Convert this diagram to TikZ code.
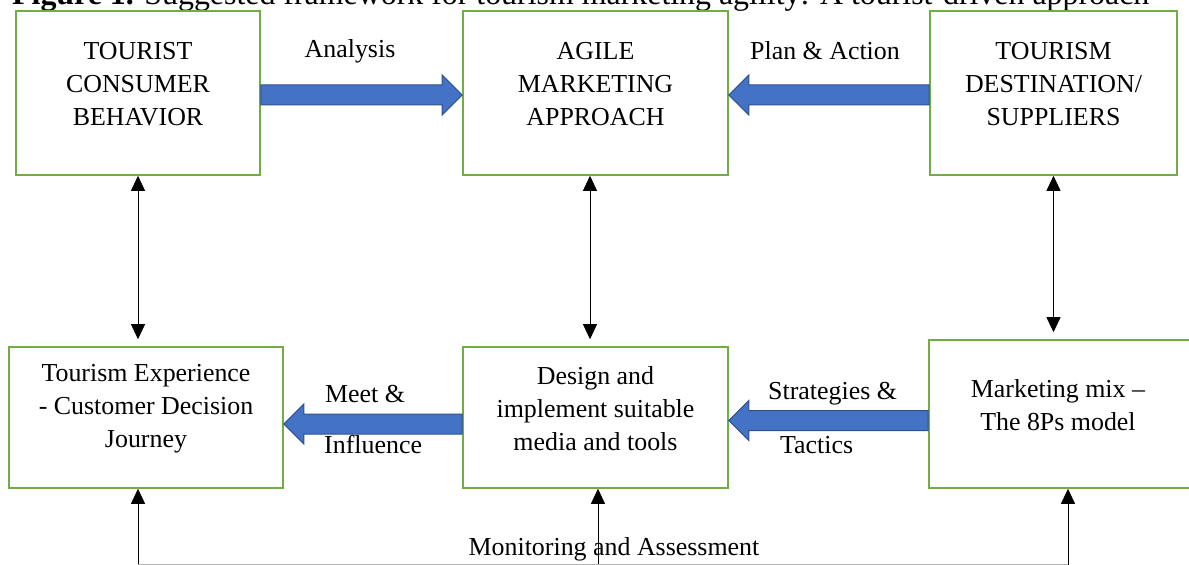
\documentclass[tikz,border=0pt]{standalone}
\usepackage{fontspec}
\setmainfont{Liberation Serif}
\usetikzlibrary{arrows.meta,calc}
\definecolor{boxgreen}{RGB}{112,173,71}
\definecolor{arrowblue}{RGB}{68,114,196}
\definecolor{arrowedge}{RGB}{47,82,143}
% thick blue block arrow: from, to, direction (1 right, -1 left)
\newcommand{\fatarrow}[3]{%
  \filldraw[fatarrow] let \p1=(#1), \p2=(#2) in
    (\x1,\y1+10bp) -- ({\x2-(#3)*20bp},\y1+10bp) -- ({\x2-(#3)*20bp},\y1+20bp) -- (\x2,\y1)
    -- ({\x2-(#3)*20bp},\y1-20bp) -- ({\x2-(#3)*20bp},\y1-10bp) -- (\x1,\y1-10bp) -- cycle;}
\begin{document}
\begin{tikzpicture}[x=1bp,y=-1bp]
		\tikzset{box/.style = {shape=rectangle, draw=boxgreen, line width=1.6bp, fill=white, inner sep=0pt},
			boxtext/.style = {align=center, inner sep=0pt, font=\fontsize{26}{33}\selectfont},
			lbl/.style = {inner sep=0pt, font=\fontsize{26}{33}\selectfont},
			fatarrow/.style = {fill=arrowblue, draw=arrowedge, line width=1bp},
			both/.style = {{Triangle[length=15bp,width=14bp]}-{Triangle[length=15bp,width=14bp]}, line width=0.8bp},
			up/.style = {-{Triangle[length=15bp,width=14bp]}, line width=0.8bp}}

		\useasboundingbox (0,0) rectangle (1189,565);

		\node[anchor=base west, inner sep=0pt, font=\fontsize{32}{38}\selectfont] (caption) at (12,5)
			{\textbf{Figure 1.} Suggested framework for tourism marketing agility: A tourist-driven approach};

		\node[box, minimum width=244bp, minimum height=164bp] (tcb) at (138,93) {};
		\node[box, minimum width=265bp, minimum height=164bp] (agile) at (595.5,93) {};
		\node[box, minimum width=247bp, minimum height=164bp] (tds) at (1053.5,93) {};
		\node[box, minimum width=274bp, minimum height=141bp] (te) at (146,417.5) {};
		\node[box, minimum width=265bp, minimum height=141bp] (design) at (595.5,417.5) {};
		\node[box, minimum width=278bp, minimum height=148bp] (mix) at (1068,414) {};

		\node[boxtext] (tcbtext) at (138,84) {TOURIST\\CONSUMER\\BEHAVIOR};
		\node[boxtext] (agiletext) at (595.5,84) {AGILE\\MARKETING\\APPROACH};
		\node[boxtext] (tdstext) at (1053.5,84) {TOURISM\\DESTINATION/\\SUPPLIERS};
		\node[boxtext] (tetext) at (146,409) {Tourism Experience\\- Customer Decision\\Journey};
		\node[boxtext] (designtext) at (595.5,409) {Design and\\implement suitable\\media and tools};
		\node[boxtext] (mixtext) at (1058,405) {Marketing mix --\\The 8Ps model};

		\fatarrow{[yshift=-2bp]tcb.east}{[yshift=-2bp]agile.west}{1}
		\fatarrow{[yshift=-2bp]tds.west}{[yshift=-2bp]agile.east}{-1}
		\fatarrow{[yshift=-6.5bp]design.west}{[yshift=-6.5bp]te.east}{-1}
		\fatarrow{[yshift=-6.5bp]mix.west}{[yshift=-6.5bp]design.east}{-1}

		\node[lbl] (analysis) at (350,51) {Analysis};
		\node[lbl] (plan) at (825,51) {Plan \& Action};
		\node[lbl, anchor=west] (meet) at (325,394) {Meet \&};
		\node[lbl, anchor=west] (influence) at (324,445) {Influence};
		\node[lbl, anchor=west] (strategies) at (768,394) {Strategies \&};
		\node[lbl, anchor=west] (tactics) at (780,445) {Tactics};

		\draw[both] (tcb.south) -- ($(tcb.south |- te.north)+(0,-7)$);
		\draw[both] ([xshift=-5.5bp]agile.south) -- ($([xshift=-5.5bp]agile.south |- design.north)+(0,-7)$);
		\draw[both] (tds.south) -- ($(tds.south |- mix.north)+(0,-7)$);

		\coordinate (m1) at (138,566);
		\coordinate (m2) at (598,566);
		\coordinate (m3) at (1068,566);
		\draw[up] (m1) -- (m1 |- te.south);
		\draw[up] (m2) -- (m2 |- design.south);
		\draw[up] (m3) -- (m3 |- mix.south);
		\draw[line width=0.8bp, black!30] ([yshift=1.5bp]m1) -- ([yshift=1.5bp]m3);
		\node[lbl] (monitor) at (614,549) {Monitoring and Assessment};

	\end{tikzpicture}
\end{document}
